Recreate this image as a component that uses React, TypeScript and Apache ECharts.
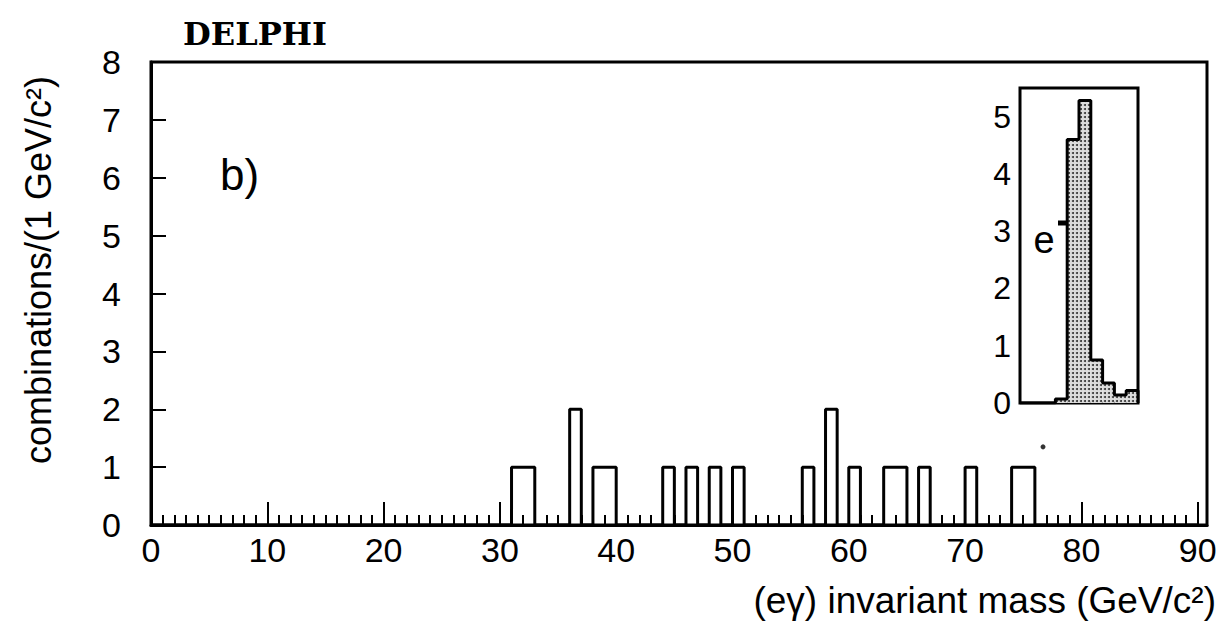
import React, { useEffect, useRef } from "react";
import * as echarts from "echarts";

// ---- data ----
const xTickLabels = [0, 10, 20, 30, 40, 50, 60, 70, 80, 90];
const yTickLabels = [0, 1, 2, 3, 4, 5, 6, 7, 8];
const mainBinCount = 90; // 1 GeV bins from 0 to 90
const eventBins = [31, 32, 36, 38, 39, 44, 46, 48, 50, 56, 58, 60, 63, 64, 66, 70, 74, 75];
const eventCounts = [1, 1, 2, 1, 1, 1, 1, 1, 1, 1, 2, 1, 1, 1, 1, 1, 1, 1];
const insetCounts = [0, 0, 0, 0.07, 4.6, 5.28, 0.75, 0.35, 0.14, 0.22];
const insetYTicks = [0, 1, 2, 3, 4, 5];
const strayMark = [[76.7, 1.35]];

const FONT = '"Liberation Sans", Arial, sans-serif';

function fullHistogram(): number[] {
  const h = new Array(mainBinCount).fill(0);
  eventBins.forEach((b, i) => {
    h[b] = eventCounts[i];
  });
  return h;
}

function outline(counts: number[]): number[][] {
  const pts: number[][] = [[0, 0]];
  counts.forEach((c, i) => {
    pts.push([i, c]);
    pts.push([i + 1, c]);
  });
  pts.push([counts.length, 0]);
  return pts;
}

export default function App() {
  const ref = useRef<HTMLDivElement>(null);

  useEffect(() => {
    if (!ref.current) return;
    const chart = echarts.init(ref.current, undefined, { renderer: "svg" });
    const mainHist = fullHistogram();

    const option: any = {
      animation: false,
      backgroundColor: "#ffffff",
      grid: [
        {
          left: 151,
          top: 62,
          right: 21,
          bottom: 98,
          show: true,
          borderColor: "#000",
          borderWidth: 3,
          backgroundColor: "transparent",
        },
        {
          left: 1020,
          top: 88,
          right: 90,
          bottom: 220,
          show: true,
          borderColor: "#000",
          borderWidth: 3,
          backgroundColor: "#fff",
          z: 5,
        },
      ],
      xAxis: [
        {
          gridIndex: 0,
          type: "value",
          min: 0,
          max: 90.8,
          interval: 10,
          axisLine: { show: true, onZero: false, lineStyle: { color: "#000", width: 3 } },
          axisTick: { show: true, inside: true, length: 23, lineStyle: { color: "#000", width: 2 } },
          axisLabel: {
            formatter: (v: number) => (xTickLabels.includes(v) ? String(v) : ""),
            fontSize: 34,
            fontFamily: FONT,
            color: "#000",
            margin: 8,
            showMaxLabel: true,
          },
          splitLine: { show: false },
        },
        {
          gridIndex: 0,
          type: "value",
          position: "bottom",
          min: 0,
          max: 90.8,
          interval: 1,
          axisLine: { show: false },
          axisTick: { show: true, inside: true, length: 10, lineStyle: { color: "#000", width: 2 } },
          axisLabel: { show: false },
          splitLine: { show: false },
        },
        {
          gridIndex: 1,
          type: "value",
          min: 0,
          max: insetCounts.length,
          interval: 1,
          axisLine: { show: false },
          axisTick: { show: true, inside: true, length: 5, lineStyle: { color: "#000", width: 2 } },
          axisLabel: { show: false },
          splitLine: { show: false },
        },
      ],
      yAxis: [
        {
          gridIndex: 0,
          type: "value",
          min: 0,
          max: 8,
          interval: 1,
          axisLine: { show: true, onZero: false, lineStyle: { color: "#000", width: 3 } },
          axisTick: { show: true, inside: true, length: 15, lineStyle: { color: "#000", width: 2 } },
          axisLabel: {
            formatter: (v: number) => (yTickLabels.includes(v) ? String(v) : ""),
            fontSize: 34,
            fontFamily: FONT,
            color: "#000",
            margin: 30,
          },
          splitLine: { show: false },
        },
        {
          gridIndex: 1,
          type: "value",
          min: 0,
          max: 5.5,
          interval: 1,
          axisLine: { show: false },
          axisTick: { show: true, inside: true, length: 14, lineStyle: { color: "#000", width: 2 } },
          axisLabel: {
            formatter: (v: number) => (insetYTicks.includes(v) ? String(v) : ""),
            fontSize: 32,
            fontFamily: FONT,
            color: "#000",
            margin: 9,
          },
          splitLine: { show: false },
        },
      ],
      series: [
        {
          type: "line",
          xAxisIndex: 0,
          yAxisIndex: 0,
          data: outline(mainHist),
          symbol: "none",
          lineStyle: { color: "#000", width: 3 },
          z: 3,
        },
        {
          type: "scatter",
          xAxisIndex: 0,
          yAxisIndex: 0,
          data: strayMark,
          symbolSize: 5,
          itemStyle: { color: "#000" },
        },
        {
          type: "bar",
          xAxisIndex: 2,
          yAxisIndex: 1,
          data: insetCounts.map((v, i) => [i + 0.5, v]),
          barWidth: "100%",
          itemStyle: {
            color: "#dcdcdc",
            decal: {
              symbol: "circle",
              symbolSize: 1,
              color: "#333",
              dashArrayX: [2, 2],
              dashArrayY: [2, 2],
              rotation: 0,
            },
          },
          z: 6,
        },
        {
          type: "line",
          xAxisIndex: 2,
          yAxisIndex: 1,
          data: outline(insetCounts),
          symbol: "none",
          lineStyle: { color: "#000", width: 3 },
          z: 7,
        },
      ],
      graphic: [
        {
          type: "text",
          x: 183,
          y: 34,
          style: {
            text: "DELPHI",
            fontSize: 32,
            fontWeight: "bold",
            fontFamily: '"DejaVu Serif", serif',
            fill: "#000",
            textAlign: "left",
            textVerticalAlign: "middle",
          },
        },
        {
          type: "text",
          x: 220,
          y: 174,
          style: {
            text: "b)",
            fontSize: 44,
            fontFamily: FONT,
            fill: "#000",
            textAlign: "left",
            textVerticalAlign: "middle",
          },
        },
        {
          type: "text",
          x: 38,
          y: 270,
          rotation: Math.PI / 2,
          style: {
            text: "combinations/(1 GeV/c²)",
            fontSize: 36,
            fontFamily: FONT,
            fill: "#000",
            textAlign: "center",
            textVerticalAlign: "middle",
          },
        },
        {
          type: "text",
          x: 1216,
          y: 600,
          style: {
            text: "(eγ) invariant mass (GeV/c²)",
            fontSize: 37,
            fontFamily: FONT,
            fill: "#000",
            textAlign: "right",
            textVerticalAlign: "middle",
          },
        },
        {
          type: "text",
          x: 1044,
          y: 240,
          z: 20,
          style: {
            text: "e",
            fontSize: 38,
            fontFamily: FONT,
            fill: "#000",
            textAlign: "center",
            textVerticalAlign: "middle",
          },
        },
        {
          type: "line",
          z: 20,
          shape: { x1: 1058, y1: 223, x2: 1068, y2: 223 },
          style: { stroke: "#000", lineWidth: 5 },
        },
      ],
    };

    chart.setOption(option);
    return () => chart.dispose();
  }, []);

  return (
    <div
      ref={ref}
      style={{ position: "fixed", left: 0, top: 0, width: 1228, height: 623, background: "#fff" }}
    />
  );
}
